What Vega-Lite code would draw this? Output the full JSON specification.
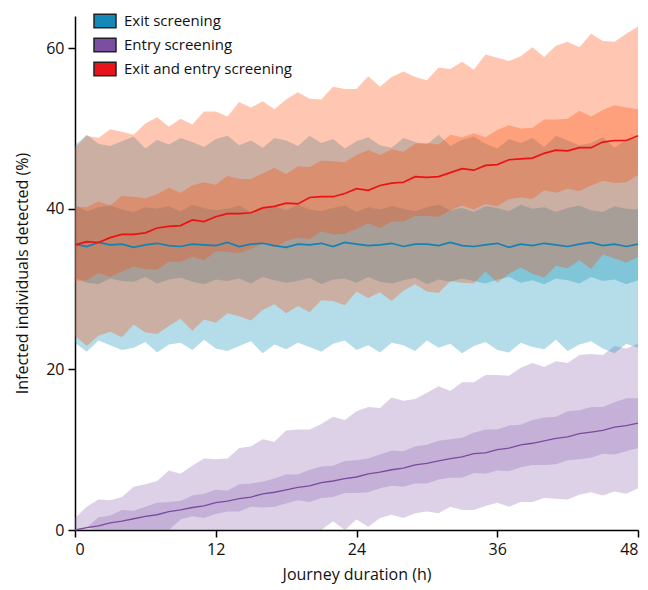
{
"$schema": "https://vega.github.io/schema/vega-lite/v6.json",
"width": 563, "height": 514,
"autosize": {"type": "none"},
"padding": {"left": 75, "top": 16, "right": 10, "bottom": 60},
"background": "white",
"config": {
 "view": {"stroke": null},
 "font": "Open Sans",
 "axis": {"grid": false, "domainColor": "#000", "domainWidth": 1.5, "tickColor": "#000", "tickWidth": 1.5, "tickSize": 7, "labelFontSize": 16, "labelColor": "#111", "labelPadding": 4, "titleFontSize": 16, "titleFontWeight": "normal", "titleColor": "#111"},
 "axisY": {"titlePadding": 15, "tickCount": 4},
 "axisX": {"titlePadding": 9}
},
"datasets": {
 "exit": [
{"t":0,"m":35.6,"a":31.4,"b":40.5,"c":23.3,"d":47.9},{"t":1,"m":35.3,"a":30.8,"b":39.7,"c":22.2,"d":49.2},{"t":2,"m":35.8,"a":30.6,"b":40.2,"c":23.6,"d":48.1},{"t":3,"m":35.5,"a":31.3,"b":40.4,"c":23.0,"d":47.8},{"t":4,"m":35.6,"a":31.0,"b":39.9,"c":22.4,"d":48.4},{"t":5,"m":35.2,"a":30.9,"b":39.6,"c":22.7,"d":49.0},{"t":6,"m":35.5,"a":31.5,"b":40.2,"c":23.4,"d":47.5},{"t":7,"m":35.7,"a":30.7,"b":40.0,"c":22.1,"d":48.6},{"t":8,"m":35.4,"a":31.2,"b":40.3,"c":23.1,"d":48.0},{"t":9,"m":35.3,"a":31.4,"b":39.7,"c":23.3,"d":48.8},{"t":10,"m":35.6,"a":30.9,"b":40.5,"c":22.4,"d":48.3},{"t":11,"m":35.5,"a":30.6,"b":40.1,"c":23.7,"d":47.7},{"t":12,"m":35.4,"a":31.2,"b":39.8,"c":22.6,"d":48.7},{"t":13,"m":35.8,"a":31.0,"b":40.0,"c":22.3,"d":49.1},{"t":14,"m":35.3,"a":31.3,"b":40.4,"c":22.9,"d":47.9},{"t":15,"m":35.6,"a":30.7,"b":39.6,"c":23.5,"d":48.5},{"t":16,"m":35.7,"a":31.5,"b":40.2,"c":22.0,"d":47.6},{"t":17,"m":35.4,"a":31.1,"b":40.3,"c":23.1,"d":48.8},{"t":18,"m":35.2,"a":30.8,"b":39.8,"c":22.5,"d":48.5},{"t":19,"m":35.6,"a":31.0,"b":40.5,"c":23.3,"d":47.8},{"t":20,"m":35.5,"a":31.4,"b":39.9,"c":22.8,"d":49.1},{"t":21,"m":35.7,"a":30.6,"b":39.7,"c":22.2,"d":48.2},{"t":22,"m":35.3,"a":31.2,"b":40.1,"c":23.2,"d":48.7},{"t":23,"m":35.8,"a":31.3,"b":40.4,"c":23.6,"d":47.5},{"t":24,"m":35.6,"a":30.8,"b":39.6,"c":22.4,"d":48.4},{"t":25,"m":35.4,"a":31.5,"b":40.2,"c":23.0,"d":48.9},{"t":26,"m":35.5,"a":30.9,"b":39.9,"c":22.1,"d":47.9},{"t":27,"m":35.7,"a":30.7,"b":40.3,"c":23.3,"d":47.6},{"t":28,"m":35.3,"a":31.1,"b":40.0,"c":23.0,"d":48.8},{"t":29,"m":35.6,"a":31.4,"b":39.7,"c":22.3,"d":48.3},{"t":30,"m":35.6,"a":30.6,"b":40.2,"c":23.6,"d":48.0},{"t":31,"m":35.4,"a":31.2,"b":40.5,"c":22.7,"d":49.2},{"t":32,"m":35.8,"a":30.9,"b":39.8,"c":23.2,"d":47.8},{"t":33,"m":35.4,"a":31.3,"b":40.1,"c":22.0,"d":48.6},{"t":34,"m":35.3,"a":31.0,"b":39.6,"c":22.9,"d":49.0},{"t":35,"m":35.5,"a":30.7,"b":40.3,"c":23.4,"d":48.1},{"t":36,"m":35.7,"a":31.2,"b":40.1,"c":22.4,"d":47.5},{"t":37,"m":35.2,"a":31.5,"b":39.7,"c":22.1,"d":48.7},{"t":38,"m":35.6,"a":30.8,"b":40.5,"c":23.3,"d":48.2},{"t":39,"m":35.4,"a":31.1,"b":40.0,"c":22.8,"d":48.8},{"t":40,"m":35.7,"a":30.6,"b":40.2,"c":22.5,"d":47.7},{"t":41,"m":35.5,"a":31.3,"b":39.6,"c":23.7,"d":49.1},{"t":42,"m":35.3,"a":31.1,"b":40.1,"c":22.3,"d":48.5},{"t":43,"m":35.6,"a":30.7,"b":40.4,"c":23.1,"d":47.9},{"t":44,"m":35.8,"a":31.5,"b":39.8,"c":23.5,"d":48.2},{"t":45,"m":35.4,"a":31.0,"b":39.6,"c":22.6,"d":48.9},{"t":46,"m":35.6,"a":31.2,"b":40.3,"c":22.0,"d":47.6},{"t":47,"m":35.3,"a":30.6,"b":40.0,"c":23.2,"d":48.6},{"t":48,"m":35.6,"a":31.1,"b":39.9,"c":22.7,"d":48.8}
 ],
 "both": [
{"t":0,"m":35.5,"a":31.0,"b":40.2,"c":24.2,"d":47.6},{"t":1,"m":35.9,"a":31.1,"b":40.2,"c":22.9,"d":49.1},{"t":2,"m":35.8,"a":32.0,"b":40.9,"c":24.2,"d":48.8},{"t":3,"m":36.4,"a":31.5,"b":40.4,"c":24.7,"d":49.9},{"t":4,"m":36.8,"a":32.2,"b":41.6,"c":24.0,"d":49.6},{"t":5,"m":36.8,"a":32.8,"b":41.5,"c":25.6,"d":49.2},{"t":6,"m":37.0,"a":32.5,"b":41.3,"c":24.6,"d":50.6},{"t":7,"m":37.6,"a":32.4,"b":41.8,"c":24.4,"d":51.4},{"t":8,"m":37.8,"a":33.4,"b":42.6,"c":25.4,"d":50.2},{"t":9,"m":37.9,"a":33.4,"b":42.0,"c":26.3,"d":51.2},{"t":10,"m":38.6,"a":34.0,"b":42.9,"c":24.8,"d":50.5},{"t":11,"m":38.4,"a":33.6,"b":43.3,"c":26.2,"d":52.1},{"t":12,"m":39.0,"a":34.7,"b":43.0,"c":25.8,"d":52.1},{"t":13,"m":39.4,"a":34.6,"b":44.1,"c":27.0,"d":51.5},{"t":14,"m":39.4,"a":34.5,"b":43.7,"c":26.6,"d":53.3},{"t":15,"m":39.5,"a":35.0,"b":43.7,"c":26.1,"d":52.6},{"t":16,"m":40.1,"a":35.7,"b":44.4,"c":27.4,"d":53.4},{"t":17,"m":40.3,"a":35.2,"b":45.1,"c":28.1,"d":52.4},{"t":18,"m":40.7,"a":36.0,"b":44.3,"c":27.0,"d":53.6},{"t":19,"m":40.6,"a":36.4,"b":45.3,"c":27.9,"d":54.5},{"t":20,"m":41.4,"a":36.2,"b":45.2,"c":27.1,"d":53.7},{"t":21,"m":41.5,"a":37.2,"b":46.0,"c":28.6,"d":53.6},{"t":22,"m":41.5,"a":36.8,"b":45.9,"c":28.5,"d":55.2},{"t":23,"m":41.9,"a":36.9,"b":45.8,"c":28.0,"d":54.9},{"t":24,"m":42.5,"a":37.5,"b":46.7,"c":29.7,"d":54.9},{"t":25,"m":42.3,"a":38.2,"b":47.3,"c":28.9,"d":56.5},{"t":26,"m":42.9,"a":37.6,"b":46.7,"c":29.6,"d":55.2},{"t":27,"m":43.2,"a":38.4,"b":47.4,"c":28.5,"d":56.4},{"t":28,"m":43.3,"a":38.4,"b":47.1,"c":29.8,"d":57.1},{"t":29,"m":44.0,"a":39.1,"b":48.1,"c":30.6,"d":56.4},{"t":30,"m":43.9,"a":39.1,"b":48.2,"c":29.7,"d":56.0},{"t":31,"m":44.0,"a":39.0,"b":48.0,"c":29.5,"d":57.6},{"t":32,"m":44.5,"a":39.8,"b":49.2,"c":31.0,"d":57.4},{"t":33,"m":45.0,"a":40.4,"b":48.9,"c":30.8,"d":58.3},{"t":34,"m":44.8,"a":39.9,"b":49.4,"c":30.7,"d":57.3},{"t":35,"m":45.4,"a":40.6,"b":48.9,"c":32.2,"d":59.2},{"t":36,"m":45.5,"a":40.3,"b":49.8,"c":30.8,"d":58.8},{"t":37,"m":46.1,"a":41.2,"b":50.4,"c":31.9,"d":58.4},{"t":38,"m":46.2,"a":41.4,"b":50.0,"c":32.7,"d":59.0},{"t":39,"m":46.3,"a":41.2,"b":50.1,"c":31.9,"d":60.1},{"t":40,"m":46.9,"a":42.3,"b":51.1,"c":31.4,"d":58.9},{"t":41,"m":47.3,"a":42.0,"b":51.1,"c":32.9,"d":60.3},{"t":42,"m":47.2,"a":42.5,"b":51.2,"c":32.6,"d":60.8},{"t":43,"m":47.6,"a":42.2,"b":52.2,"c":33.6,"d":60.1},{"t":44,"m":47.6,"a":42.9,"b":51.5,"c":32.5,"d":61.8},{"t":45,"m":48.3,"a":43.5,"b":52.3,"c":34.3,"d":60.9},{"t":46,"m":48.5,"a":43.2,"b":52.9,"c":33.8,"d":60.8},{"t":47,"m":48.5,"a":43.3,"b":52.6,"c":33.3,"d":61.8},{"t":48,"m":49.1,"a":44.2,"b":52.4,"c":34.0,"d":62.7}
 ],
 "entry": [
{"t":0,"m":0,"a":0,"b":0,"c":0,"d":1.5},{"t":1,"m":0.3,"a":0.3,"b":0.3,"c":0,"d":2.9},{"t":2,"m":0.5,"a":0,"b":1.6,"c":0,"d":3.8},{"t":3,"m":0.9,"a":0,"b":1.8,"c":0,"d":3.7},{"t":4,"m":1.1,"a":0,"b":2.5,"c":0,"d":4.1},{"t":5,"m":1.4,"a":0,"b":2.4,"c":0,"d":5.4},{"t":6,"m":1.7,"a":0,"b":2.9,"c":0,"d":5.7},{"t":7,"m":1.9,"a":0,"b":3.4,"c":0,"d":6.1},{"t":8,"m":2.3,"a":0,"b":3.5,"c":0,"d":7.4},{"t":9,"m":2.5,"a":1.3,"b":3.6,"c":0,"d":7.0},{"t":10,"m":2.8,"a":1.7,"b":4.3,"c":0,"d":8.0},{"t":11,"m":3.0,"a":1.5,"b":4.5,"c":0,"d":8.9},{"t":12,"m":3.4,"a":2.0,"b":5.0,"c":0,"d":8.8},{"t":13,"m":3.6,"a":2.3,"b":4.9,"c":0,"d":8.9},{"t":14,"m":3.9,"a":2.3,"b":5.7,"c":0,"d":10.2},{"t":15,"m":4.1,"a":2.9,"b":5.8,"c":0,"d":10.4},{"t":16,"m":4.5,"a":2.8,"b":6.0,"c":0,"d":11.3},{"t":17,"m":4.7,"a":2.9,"b":6.4,"c":0,"d":11.0},{"t":18,"m":5.0,"a":3.3,"b":6.9,"c":0,"d":12.4},{"t":19,"m":5.3,"a":3.7,"b":6.9,"c":0,"d":12.5},{"t":20,"m":5.5,"a":3.5,"b":7.5,"c":0,"d":12.5},{"t":21,"m":5.9,"a":4.0,"b":7.9,"c":0,"d":13.2},{"t":22,"m":6.1,"a":4.1,"b":8.0,"c":1.1,"d":14.1},{"t":23,"m":6.4,"a":4.6,"b":8.6,"c":0,"d":13.7},{"t":24,"m":6.6,"a":4.6,"b":8.7,"c":1.3,"d":14.8},{"t":25,"m":7.0,"a":4.7,"b":8.9,"c":0.4,"d":15.3},{"t":26,"m":7.2,"a":5.2,"b":9.4,"c":1.5,"d":15.2},{"t":27,"m":7.5,"a":5.5,"b":9.9,"c":1.9,"d":16.5},{"t":28,"m":7.7,"a":5.4,"b":9.8,"c":1.5,"d":16.1},{"t":29,"m":8.1,"a":5.8,"b":10.4,"c":2.1,"d":16.3},{"t":30,"m":8.3,"a":5.8,"b":10.6,"c":2.3,"d":17.1},{"t":31,"m":8.6,"a":6.3,"b":11.1,"c":2.1,"d":17.9},{"t":32,"m":8.9,"a":6.5,"b":11.3,"c":2.9,"d":17.3},{"t":33,"m":9.1,"a":6.5,"b":11.5,"c":2.5,"d":18.4},{"t":34,"m":9.5,"a":7.1,"b":12.1,"c":2.5,"d":18.4},{"t":35,"m":9.6,"a":7.0,"b":12.5,"c":3.0,"d":19.3},{"t":36,"m":10.0,"a":7.4,"b":12.5,"c":3.4,"d":19.3},{"t":37,"m":10.2,"a":7.3,"b":13.0,"c":2.9,"d":19.2},{"t":38,"m":10.6,"a":7.8,"b":13.1,"c":3.5,"d":20.2},{"t":39,"m":10.8,"a":8.1,"b":13.7,"c":3.5,"d":20.8},{"t":40,"m":11.1,"a":8.1,"b":14.0,"c":4.0,"d":20.3},{"t":41,"m":11.4,"a":8.2,"b":14.1,"c":3.9,"d":21.0},{"t":42,"m":11.6,"a":8.7,"b":14.8,"c":3.8,"d":20.8},{"t":43,"m":12.0,"a":8.8,"b":14.9,"c":4.4,"d":21.8},{"t":44,"m":12.2,"a":9.0,"b":15.3,"c":4.7,"d":21.9},{"t":45,"m":12.4,"a":9.5,"b":15.3,"c":4.3,"d":21.8},{"t":46,"m":12.8,"a":9.4,"b":15.9,"c":4.8,"d":22.9},{"t":47,"m":13.0,"a":9.8,"b":16.4,"c":4.5,"d":22.6},{"t":48,"m":13.3,"a":10.2,"b":16.4,"c":5.2,"d":23.2}
 ],
 "legend": [{"k":"Exit screening"},{"k":"Entry screening"},{"k":"Exit and entry screening"}]
},
"encoding": {
 "x": {"field": "t", "type": "quantitative", "scale": {"domain": [0, 48], "nice": false}, "axis": {"values": [0, 12, 24, 36, 48]}, "title": "Journey duration (h)"}
},
"layer": [
 {"data": {"name": "entry"}, "mark": {"type": "area", "color": "#8e66b2", "opacity": 0.3},
  "encoding": {"y": {"field": "c", "type": "quantitative", "scale": {"domain": [0, 64], "nice": false}, "title": "Infected individuals detected (%)"}, "y2": {"field": "d"}}},
 {"data": {"name": "entry"}, "mark": {"type": "area", "color": "#8e66b2", "opacity": 0.3},
  "encoding": {"y": {"field": "a", "type": "quantitative", "scale": {"domain": [0, 64], "nice": false}, "title": "Infected individuals detected (%)"}, "y2": {"field": "b"}}},
 {"data": {"name": "exit"}, "mark": {"type": "area", "color": "#0a8fb5", "opacity": 0.3},
  "encoding": {"y": {"field": "c", "type": "quantitative", "scale": {"domain": [0, 64], "nice": false}, "title": "Infected individuals detected (%)"}, "y2": {"field": "d"}}},
 {"data": {"name": "exit"}, "mark": {"type": "area", "color": "#0a8fb5", "opacity": 0.3},
  "encoding": {"y": {"field": "a", "type": "quantitative", "scale": {"domain": [0, 64], "nice": false}, "title": "Infected individuals detected (%)"}, "y2": {"field": "b"}}},
 {"data": {"name": "both"}, "mark": {"type": "area", "color": "#ff4500", "opacity": 0.3},
  "encoding": {"y": {"field": "c", "type": "quantitative", "scale": {"domain": [0, 64], "nice": false}, "title": "Infected individuals detected (%)"}, "y2": {"field": "d"}}},
 {"data": {"name": "both"}, "mark": {"type": "area", "color": "#ff4500", "opacity": 0.3},
  "encoding": {"y": {"field": "a", "type": "quantitative", "scale": {"domain": [0, 64], "nice": false}, "title": "Infected individuals detected (%)"}, "y2": {"field": "b"}}},
 {"data": {"name": "entry"}, "mark": {"type": "line", "color": "#7a4a9f", "strokeWidth": 1.3},
  "encoding": {"y": {"field": "m", "type": "quantitative", "scale": {"domain": [0, 64], "nice": false}, "title": "Infected individuals detected (%)"}}},
 {"data": {"name": "exit"}, "mark": {"type": "line", "color": "#1183b5", "strokeWidth": 1.7},
  "encoding": {"y": {"field": "m", "type": "quantitative", "scale": {"domain": [0, 64], "nice": false}, "title": "Infected individuals detected (%)"}}},
 {"data": {"name": "both"}, "mark": {"type": "line", "color": "#ee1111", "strokeWidth": 1.7},
  "encoding": {"y": {"field": "m", "type": "quantitative", "scale": {"domain": [0, 64], "nice": false}, "title": "Infected individuals detected (%)"}}},
 {"data": {"name": "legend"}, "mark": {"type": "point", "filled": true, "opacity": 0, "stroke": "#222", "strokeWidth": 1.5},
  "encoding": {"x": {"value": 0}, "y": {"value": 0}, "color": {"field": "k", "type": "nominal",
   "scale": {"domain": ["Exit screening", "Entry screening", "Exit and entry screening"], "range": ["#1488b8", "#7b4fa0", "#e8141c"]},
   "legend": {"title": null, "orient": "none", "legendX": 18, "legendY": -7, "padding": 0, "symbolType": "M-1,-0.62H1V0.62H-1Z", "symbolSize": 484, "symbolOpacity": 1, "symbolStrokeColor": "#222", "symbolStrokeWidth": 1.5, "labelFontSize": 15, "labelColor": "#111", "labelOffset": 7, "labelLimit": 0, "rowPadding": 2, "labelFont": "Open Sans"}}}}
]
}
